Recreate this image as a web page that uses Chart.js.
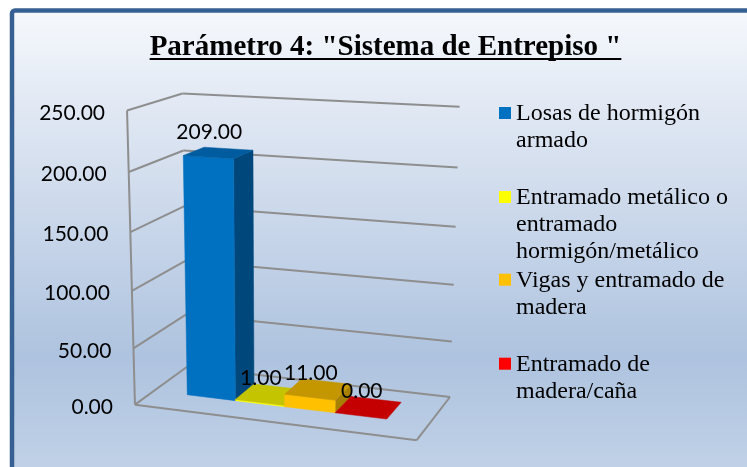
<!DOCTYPE html>
<html lang="es">
<head>
<meta charset="utf-8">
<title>Parámetro 4</title>
<script src="https://cdn.jsdelivr.net/npm/chart.js@4"></script>
<style>
html,body{margin:0;padding:0;background:#fff;width:747px;height:467px;overflow:hidden}
canvas{display:block}
</style>
</head>
<body>
<canvas id="c" width="747" height="467"></canvas>
<script>
const titleText = 'Parámetro 4: "Sistema de Entrepiso "';
const categories = ['Parámetro 4'];
const seriesNames = ['Losas de hormigón armado','Entramado metálico o entramado hormigón/metálico','Vigas y entramado de madera','Entramado de madera/caña'];
const seriesValues = [209, 1, 11, 0];
const yTicks = [0, 50, 100, 150, 200, 250];
const legendLines = [['Losas de hormigón','armado'],['Entramado metálico o','entramado','hormigón/metálico'],['Vigas y entramado de','madera'],['Entramado de','madera/caña']];
const frontColors = ['#0070C0','#FFFF00','#FFC000','#FF0000'];
const topColors = ['#005C9E','#C4C400','#C49600','#C40000'];
const sideColors = ['#00487C','#A0A000','#A88000','#A00000'];

/* Projection of the 3D box (u along axis, h along value axis, d along depth) to the page. */
const refPoints = [
 [0,0,0,135.5,405],[1,0,0,416,441.7],[1,0,1,450,396],[0,0,1,186,366.7],
 [0,1,0,126,110.7],[0,1,0,126,110.7],[0,1,0,126,110.7],[0,1,1,183.5,93.3],[1,1,1,459.3,107.3],
 [0,.8,0,129.3,171.7],[0,.8,0,129.3,171.7],[0,.6,0,131,231.7],[0,.4,0,132.7,290],[0,.2,0,134,347.7],
 [0,.8,1,184,150],[0,.6,1,184.5,206.7],[0,.4,1,185,261.7],[0,.2,1,185.5,315],
 [1,.8,1,457.7,167.7],[1,.6,1,455.7,226.7],[1,.4,1,454,284],[1,.2,1,452.3,341]
];
function fit(){
  const N=11,A=Array.from({length:N},()=>new Array(N+1).fill(0));
  const add=(r,t)=>{for(let i=0;i<N;i++){for(let j=0;j<N;j++)A[i][j]+=r[i]*r[j];A[i][N]+=r[i]*t;}};
  for(const [u,h,d,X,Y] of refPoints){
    add([u,h,d,1,0,0,0,0,-X*u,-X*h,-X*d],X);
    add([0,0,0,0,u,h,d,1,-Y*u,-Y*h,-Y*d],Y);
  }
  for(let c=0;c<N;c++){
    let p=c;for(let r=c+1;r<N;r++)if(Math.abs(A[r][c])>Math.abs(A[p][c]))p=r;
    [A[c],A[p]]=[A[p],A[c]];
    for(let r=0;r<N;r++){if(r===c)continue;const f=A[r][c]/A[c][c];for(let k=c;k<=N;k++)A[r][k]-=f*A[c][k];}
  }
  return A.map((row,i)=>row[N]/row[i]);
}
const P=fit();
function proj(u,h,d){
  const w=P[8]*u+P[9]*h+P[10]*d+1;
  return [(P[0]*u+P[1]*h+P[2]*d+P[3])/w,(P[4]*u+P[5]*h+P[6]*d+P[7])/w];
}
const depthFront=0.35, depthBack=0.75;

function line(ctx,a,b){ctx.beginPath();ctx.moveTo(a[0],a[1]);ctx.lineTo(b[0],b[1]);ctx.stroke();}
function face(ctx,pts,color){
  ctx.beginPath();pts.forEach((p,i)=>i?ctx.lineTo(p[0],p[1]):ctx.moveTo(p[0],p[1]));ctx.closePath();
  ctx.fillStyle=color;ctx.fill();ctx.strokeStyle=color;ctx.lineWidth=0.5;ctx.stroke();
}

const scene={
  id:'scene',
  beforeDraw(chart){
    const ctx=chart.ctx,W=chart.width,H=chart.height;
    ctx.save();
    ctx.fillStyle='#fff';ctx.fillRect(0,0,W,H);
    const g=ctx.createLinearGradient(0,10,0,467);
    g.addColorStop(0,'#F6F9FD');g.addColorStop(0.2,'#E2E9F4');g.addColorStop(0.76,'#AEC3DF');g.addColorStop(1,'#C0D1E7');
    ctx.beginPath();ctx.roundRect(12,10.5,760,480,3);
    ctx.fillStyle=g;ctx.fill();
    ctx.strokeStyle='#376092';ctx.lineWidth=4.5;ctx.stroke();

    /* title */
    ctx.fillStyle='#000';ctx.font='bold 29px "Liberation Serif"';ctx.textAlign='center';ctx.textBaseline='alphabetic';
    ctx.fillText(titleText,385.5,55);
    const tw=ctx.measureText(titleText).width;
    ctx.fillRect(385.5-tw/2,58,tw,2);

    /* walls and floor */
    const y=chart.scales.y;
    ctx.strokeStyle='#8E8E8E';ctx.lineWidth=2;
    for(const t of yTicks){
      const h=(y.bottom-y.getPixelForValue(t))/(y.bottom-y.top);
      line(ctx,proj(0,h,0),proj(0,h,1));
      line(ctx,proj(0,h,1),proj(1,h,1));
    }
    line(ctx,proj(0,0,0),proj(0,1,0));
    line(ctx,proj(0,0,0),proj(1,0,0));
    line(ctx,proj(1,0,0),proj(1,0,1));

    /* value axis labels */
    ctx.fillStyle='#000';ctx.font='21px Lato';ctx.textAlign='right';ctx.textBaseline='middle';
    for(const t of yTicks){
      const h=(y.bottom-y.getPixelForValue(t))/(y.bottom-y.top);
      const p=proj(0,h,0);
      ctx.fillText(t.toFixed(2),p[0]-22,p[1]+2.5);
    }

    /* legend */
    ctx.textAlign='left';ctx.textBaseline='alphabetic';ctx.font='24px "Liberation Serif"';
    const rows=[120,204,286.7,370.7];
    legendLines.forEach((ls,i)=>{
      ctx.fillStyle=frontColors[i];ctx.fillRect(499,rows[i]-13,12,12);
      ctx.fillStyle='#000';
      ls.forEach((s,k)=>ctx.fillText(s,516,rows[i]+k*27));
    });
    ctx.restore();
  },
  beforeDatasetsDraw(chart){
    const ctx=chart.ctx,a=chart.chartArea,items=[];
    ctx.save();
    chart.data.datasets.forEach((ds,i)=>{
      const el=chart.getDatasetMeta(i).data[0].getProps(['x','y','base','width'],true);
      const u0=(el.x-el.width/2)/chart.width,u1=(el.x+el.width/2)/chart.width;
      const h=(a.bottom-el.y)/a.height,b=(a.bottom-el.base)/a.height;
      const f=depthFront,k=depthBack;
      if(h>b+1e-6){
        face(ctx,[proj(u1,b,f),proj(u1,b,k),proj(u1,h,k),proj(u1,h,f)],sideColors[i]);
        face(ctx,[proj(u0,b,f),proj(u1,b,f),proj(u1,h,f),proj(u0,h,f)],frontColors[i]);
      }
      face(ctx,[proj(u0,h,f),proj(u1,h,f),proj(u1,h,k),proj(u0,h,k)],topColors[i]);
      const m=proj((u0+u1)/2,h,f);
      items.push([ds.data[0].toFixed(2),m[0]+1,m[1]-24.5]);
    });
    ctx.fillStyle='#000';ctx.font='21px Lato';ctx.textAlign='center';ctx.textBaseline='middle';
    items.forEach(t=>ctx.fillText(t[0],t[1],t[2]));
    ctx.restore();
    return false;
  }
};

new Chart(document.getElementById('c'),{
  type:'bar',
  data:{labels:categories,datasets:seriesNames.map((n,i)=>({label:n,data:[seriesValues[i]],backgroundColor:frontColors[i]}))},
  options:{
    responsive:false,animation:false,devicePixelRatio:1,
    categoryPercentage:0.74,barPercentage:1,
    layout:{padding:{right:13}},
    plugins:{legend:{display:false},title:{display:false},tooltip:{enabled:false}},
    scales:{
      x:{display:false},
      y:{display:false,min:0,max:250,ticks:{stepSize:50}}
    }
  },
  plugins:[scene]
});
</script>
</body>
</html>
